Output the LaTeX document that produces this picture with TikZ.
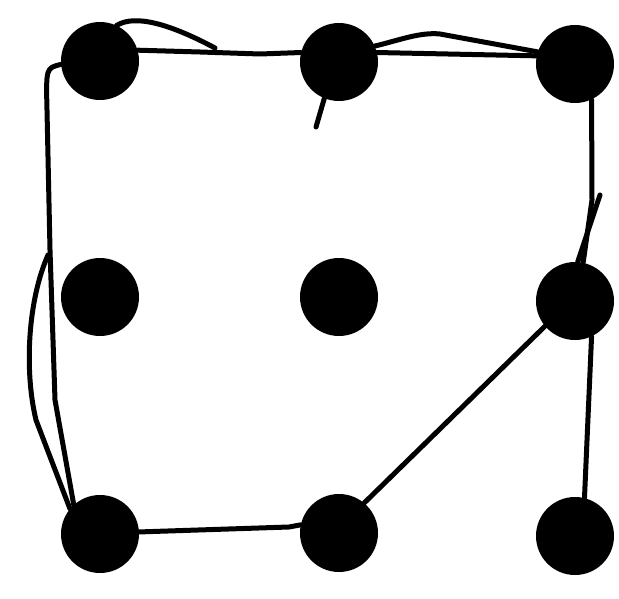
\documentclass[tikz,border=0pt]{standalone}
\begin{document}
\begin{tikzpicture}[x=1pt,y=-1pt,
  dot/.style={circle,fill=black,minimum size=78pt,inner sep=0pt},
  stroke/.style={line width=5pt,line cap=round,line join=round}]
\useasboundingbox[fill=white] (0,0) rectangle (619,599);
\node[dot] (tl) at (100,61) {};
\node[dot] (tm) at (339,62) {};
\node[dot] (tr) at (575,64) {};
\node[dot] (ml) at (100,297) {};
\node[dot] (mm) at (339,297) {};
\node[dot] (mr) at (575,301) {};
\node[dot] (bl) at (100,534) {};
\node[dot] (bm) at (339,533) {};
\node[dot] (br) at (575,536) {};
\coordinate (stub) at (316,127);
% top edges
\draw[stroke] (tl.16) -- (200,52) -- (260,54) -- (tm.166);
\draw[stroke] (tl.65) .. controls (135,14) and (170,24) .. (215,48);
\draw[stroke] (tm.14) -- (tr.168);
\draw[stroke] (tm.24) .. controls (400,40) and (420,32) .. (440,34) -- (tr.162);
\draw[stroke] (tm.-112) -- (stub);
% left edges
\draw[stroke] (tl.185) .. controls (46,68) .. (47,110) -- (50,250) -- (55,400) -- (bl.132);
\draw[stroke] (48,255) .. controls (28,300) and (24,370) .. (36,420) -- (bl.140);
% right edges
\draw[stroke] (tr.-65) -- (592,200) -- (mr.78);
\draw[stroke] (600,195) -- (mr.86);
\draw[stroke] (mr.-65) -- (br.76);
\draw[stroke] (mr.-140) -- (bm.50);
% bottom edge
\draw[stroke] (bl.3) -- (289,527) -- (bm.168);
\end{tikzpicture}
\end{document}
